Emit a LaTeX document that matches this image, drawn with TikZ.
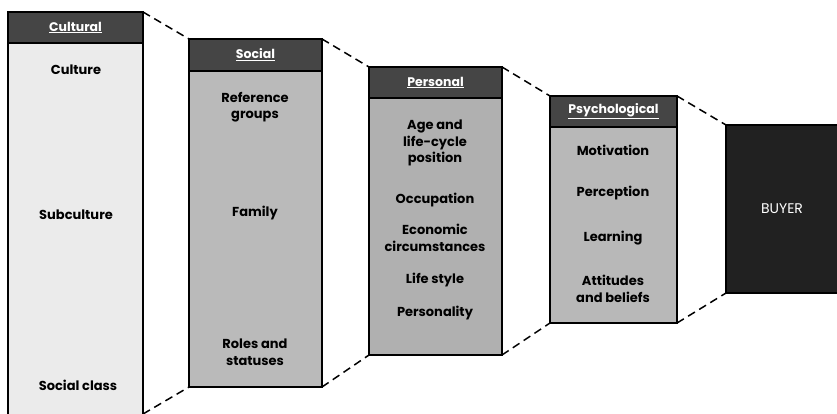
\documentclass[tikz,border=0pt]{standalone}
\usepackage{fontspec}
\setmainfont{Poppins}
\usetikzlibrary{positioning}
\definecolor{headgray}{gray}{0.27}
\definecolor{culturalfill}{gray}{0.92}
\definecolor{socialfill}{gray}{0.73}
\definecolor{personalfill}{gray}{0.69}
\definecolor{psychfill}{gray}{0.72}
\definecolor{buyerfill}{gray}{0.13}

\begin{document}
\begin{tikzpicture}[x=1pt,y=-1pt,
panel/.style={rectangle, draw=black, line width=1.6pt, inner sep=0pt, outer sep=0pt, anchor=north west},
header/.style={rectangle, draw=black, fill=headgray, line width=1.6pt, inner sep=0pt, outer sep=0pt, minimum height=31pt, anchor=north west, text=white, font=\bfseries\fontsize{12.5}{15}\selectfont},
factor/.style={align=center, text=black, font=\bfseries\fontsize{13}{16.5}\selectfont},
link/.style={draw=black, line width=1.5pt, dash pattern=on 8pt off 5pt},
]
\clip (0,0) rectangle (837,414);

%Panels
\node[panel, fill=culturalfill, minimum width=135pt, minimum height=404pt] (cultural) at (8,12) {};
\node[header, minimum width=135pt] (culturalhead) at (cultural.north west) {\underline{Cultural}};
\node[panel, fill=socialfill, minimum width=133pt, minimum height=348pt] (social) at (189,39) {};
\node[header, minimum width=133pt, minimum height=32pt] (socialhead) at (social.north west) {\underline{Social}};
\node[panel, fill=personalfill, minimum width=133pt, minimum height=288pt] (personal) at (369,67) {};
\node[header, minimum width=133pt] (personalhead) at (personal.north west) {\underline{Personal}};
\node[panel, fill=psychfill, minimum width=127pt, minimum height=227pt] (psych) at (550,96) {};
\node[header, minimum width=127pt] (psychhead) at (psych.north west) {\underline{Psychological}};
\node[panel, fill=buyerfill, minimum width=112pt, minimum height=168pt] (buyer) at (726,125) {};
\node[text=white, font=\fontsize{14}{16}\selectfont] (buyertext) at (buyer.center) {BUYER};

%Factors
\node[factor] (culture)    at (76,70)  {Culture};
\node[factor] (subculture) at (76,215) {Subculture};
\node[factor] (class)      at (78,385) {Social class};

\node[factor] (reference)  at (255,107) {Reference\\groups};
\node[factor] (family)     at (255,213) {Family};
\node[factor] (roles)      at (255,352) {Roles and\\statuses};

\node[factor] (age)        at (435,143) {Age and\\life-cycle\\position};
\node[factor] (occupation) at (435,200) {Occupation};
\node[factor] (economic)   at (435,238) {Economic\\circumstances};
\node[factor] (lifestyle)  at (435,280) {Life style};
\node[factor] (personality) at (435,313) {Personality};

\node[factor] (motivation) at (613,150) {Motivation};
\node[factor] (perception) at (613,193) {Perception};
\node[factor] (learning)   at (613,238) {Learning};
\node[factor] (attitudes)  at (613,289) {Attitudes\\and beliefs};

%Lines
\draw[link] (cultural.north east) -- (social.north west);
\draw[link] (cultural.south east) ++(0,-2) -- (social.south west);
\draw[link] (social.north east) -- (personal.north west);
\draw[link] (social.south east) -- (personal.south west);
\draw[link] (personal.north east) -- (psych.north west);
\draw[link] (personal.south east) -- (psych.south west);
\draw[link] (psych.north east) -- (buyer.north west);
\draw[link] (psych.south east) -- (buyer.south west);
\end{tikzpicture}
\end{document}
